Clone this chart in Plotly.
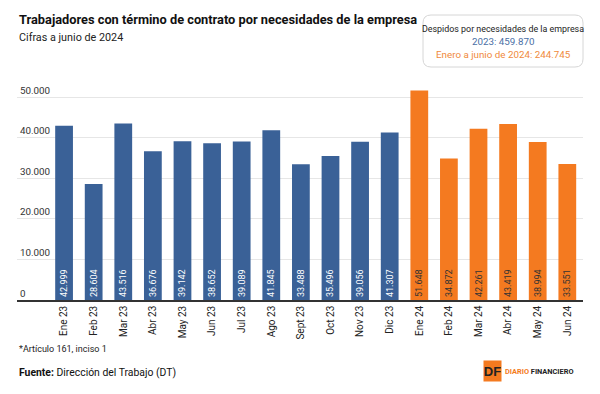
import plotly.graph_objects as go

months = ["Ene 23", "Feb 23", "Mar 23", "Abr 23", "May 23", "Jun 23", "Jul 23", "Ago 23",
          "Sept 23", "Oct 23", "Nov 23", "Dic 23",
          "Ene 24", "Feb 24", "Mar 24", "Abr 24", "May 24", "Jun 24"]
values_2023 = [42999, 28604, 43516, 36676, 39142, 38652, 39089, 41845, 33488, 35496, 39056, 41307]
values_2024 = [51648, 34872, 42261, 43419, 38994, 33551]
y_ticks = [0, 10000, 20000, 30000, 40000, 50000]
y_tick_labels = ["0", "10.000", "20.000", "30.000", "40.000", "50.000"]

BLUE = "#3a6197"
ORANGE = "#f47a20"
FONT = "Roboto, sans-serif"

L, R, T, B = 17, 17, 77, 94
PW = 600 - L - R
PH = 394 - T - B


def fmt(v):
    return f"{v:,}".replace(",", ".")


def px_x(px):
    return (px - L) / PW


def py2paper(py):
    return (394 - B - py) / PH


x23 = list(range(len(values_2023)))
x24 = list(range(len(values_2023), len(values_2023) + len(values_2024)))

fig = go.Figure()
fig.add_trace(go.Bar(
    x=x23, y=values_2023, marker=dict(color=BLUE, line=dict(width=0)),
    text=[fmt(v) for v in values_2023], textposition="inside", insidetextanchor="start",
    textangle=-90, textfont=dict(color="white", size=9, family=FONT),
    width=0.6, hoverinfo="skip", cliponaxis=False,
))
fig.add_trace(go.Bar(
    x=x24, y=values_2024, marker=dict(color=ORANGE, line=dict(width=0)),
    text=[fmt(v) for v in values_2024], textposition="inside", insidetextanchor="start",
    textangle=-90, textfont=dict(color="#333333", size=9, family=FONT),
    width=0.6, hoverinfo="skip", cliponaxis=False,
))

fig.update_layout(
    width=600, height=394,
    margin=dict(l=L, r=R, t=T, b=B),
    paper_bgcolor="white", plot_bgcolor="white",
    showlegend=False,
    barmode="overlay",
    font=dict(family=FONT, color="#222222"),
    xaxis=dict(
        range=[-1.59, 17.53], tickmode="array", tickvals=x23 + x24, ticktext=months,
        tickangle=-90, tickfont=dict(size=10, family=FONT, color="#222222"),
        showgrid=False, showline=True, linecolor="#333333", linewidth=1.5,
        ticks="", zeroline=False, fixedrange=True,
    ),
    yaxis=dict(
        range=[0, 55000], tickmode="array", tickvals=y_ticks, ticktext=y_tick_labels,
        ticklabelposition="inside top", tickfont=dict(size=9.8, family=FONT, color="#333333"),
        showgrid=True, gridcolor="#e6e6e6", gridwidth=1,
        zeroline=False, showline=False, ticks="", fixedrange=True,
    ),
)

# Title & subtitle
fig.add_annotation(text="<b>Trabajadores con término de contrato por necesidades de la empresa</b>",
                   xref="paper", yref="paper", x=0, y=py2paper(20), xanchor="left", yanchor="middle",
                   showarrow=False, font=dict(size=12.8, family=FONT, color="#111111"))
fig.add_annotation(text="Cifras a junio de 2024",
                   xref="paper", yref="paper", x=0, y=py2paper(38), xanchor="left", yanchor="middle",
                   showarrow=False, font=dict(size=10.8, family=FONT, color="#222222"))

# Legend box (rounded) in paper coords
x0, x1, y0, y1 = px_x(423), px_x(583), py2paper(15), py2paper(67)
rx, ry = 8 / PW, 8 / PH
path = (f"M {x0+rx},{y0} L {x1-rx},{y0} Q {x1},{y0} {x1},{y0-ry} L {x1},{y1+ry} Q {x1},{y1} {x1-rx},{y1} "
        f"L {x0+rx},{y1} Q {x0},{y1} {x0},{y1+ry} L {x0},{y0-ry} Q {x0},{y0} {x0+rx},{y0} Z")
fig.add_shape(type="path", path=path, xref="paper", yref="paper", layer="above",
              line=dict(color="#d6d6d6", width=1), fillcolor="rgba(255,255,255,0)")

cx = (423 + 583) / 2
fig.add_annotation(text="Despidos por necesidades de la empresa", xref="paper", yref="paper",
                   x=px_x(cx), y=py2paper(29), xanchor="center", yanchor="middle", showarrow=False,
                   font=dict(size=8.9, family=FONT, color="#222222"))
fig.add_annotation(text="2023: 459.870", xref="paper", yref="paper",
                   x=px_x(cx), y=py2paper(41.5), xanchor="center", yanchor="middle", showarrow=False,
                   font=dict(size=9.8, family=FONT, color="#4a6fa5"))
fig.add_annotation(text="Enero a junio de 2024: 244.745", xref="paper", yref="paper",
                   x=px_x(cx), y=py2paper(55), xanchor="center", yanchor="middle", showarrow=False,
                   font=dict(size=9.8, family=FONT, color="#f08a3c"))

# Footnotes
fig.add_annotation(text="*Artículo 161, inciso 1", xref="paper", yref="paper",
                   x=0, y=py2paper(349), xanchor="left", yanchor="middle", showarrow=False,
                   font=dict(size=9, family=FONT, color="#222222"))
fig.add_annotation(text="<b>Fuente:</b> Dirección del Trabajo (DT)", xref="paper", yref="paper",
                   x=0, y=py2paper(372), xanchor="left", yanchor="middle", showarrow=False,
                   font=dict(size=10.4, family=FONT, color="#111111"))

# Logo
fig.add_annotation(text="<b>DF</b>", xref="paper", yref="paper",
                   x=px_x(492), y=py2paper(371), xanchor="center", yanchor="middle", showarrow=False,
                   bgcolor=ORANGE, width=17, height=20, borderpad=0,
                   font=dict(size=13, family="Liberation Sans, sans-serif", color="#222222"))
fig.add_annotation(text="<b><span style='color:#f47a20'>DIARIO</span> FINANCIERO</b>", xref="paper", yref="paper",
                   x=px_x(503), y=py2paper(371), xanchor="left", yanchor="middle", showarrow=False,
                   font=dict(size=7.4, family=FONT, color="#222222"))

fig.write_html("out.html")
